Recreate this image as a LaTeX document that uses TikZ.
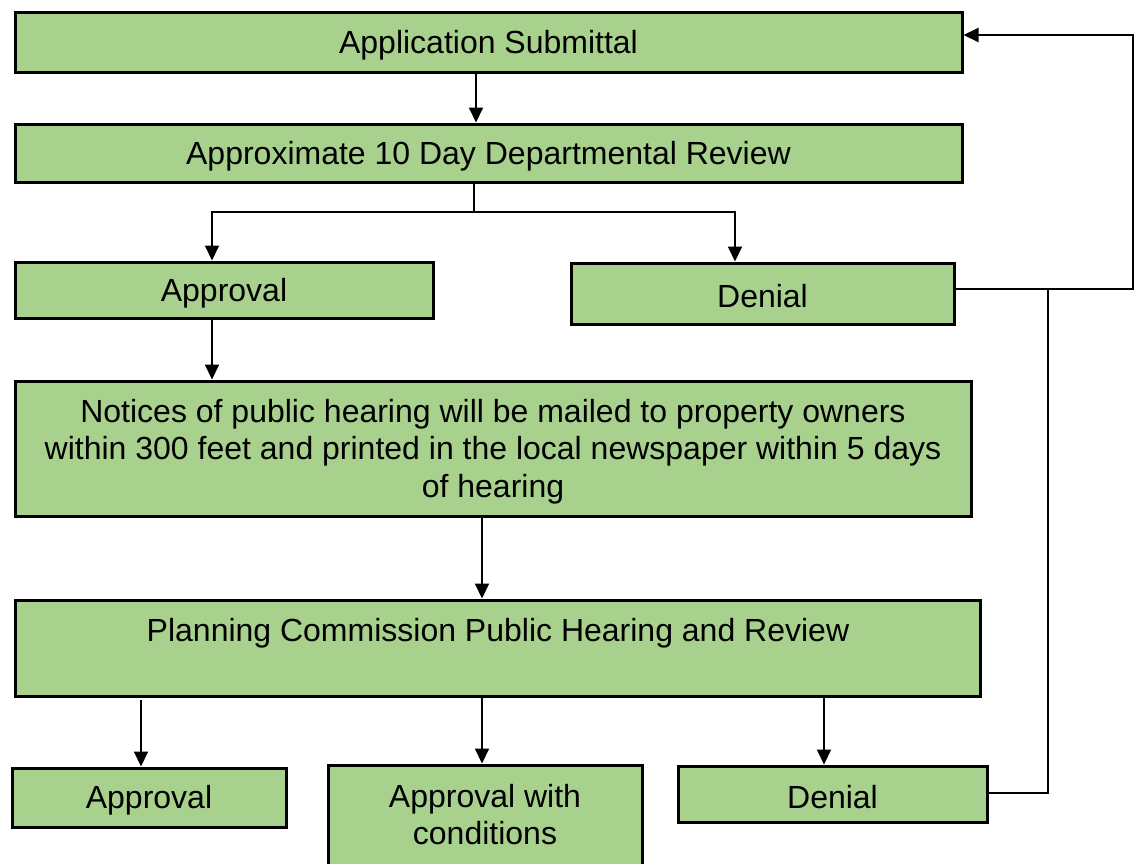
\documentclass[tikz,border=0pt]{standalone}
\usepackage{fontspec}
\setmainfont{Liberation Sans}
\usetikzlibrary{arrows.meta}
\definecolor{boxgreen}{HTML}{A9D18E}
\begin{document}
\begin{tikzpicture}[x=1pt,y=-1pt,
  box/.style={draw=black, line width=3pt, fill=boxgreen, inner sep=0pt},
  lbl/.style={font=\fontsize{32}{37.5}\selectfont, align=center, inner sep=0pt, yshift=-3pt},
  conn/.style={line width=2pt},
  arr/.style={conn, -{Triangle[length=15pt,width=14pt]}}]
\useasboundingbox (0,0) rectangle (1144,863);
\node[box, minimum width=947pt, minimum height=60pt] (b1) at (488.5,42) {};
\node[lbl] (b1t) at (b1.center) {Application Submittal};
\node[box, minimum width=947pt, minimum height=58pt] (b2) at (488.5,153) {};
\node[lbl] (b2t) at (b2.center) {Approximate 10 Day Departmental Review};
\node[box, minimum width=418pt, minimum height=56pt] (b3) at (224,290) {};
\node[lbl] (b3t) at (b3.center) {Approval};
\node[box, minimum width=383pt, minimum height=61pt] (b4) at (762.5,293.5) {};
\node[lbl] (b4t) at (b4.center) {Denial};
\node[box, minimum width=956pt, minimum height=135pt] (b5) at (493,448.5) {};
\node[lbl] (b5t) at (b5.center) {Notices of public hearing will be mailed to property owners\\within 300 feet and printed in the local newspaper within 5 days\\of hearing};
\node[box, minimum width=965pt, minimum height=96pt] (b6) at (497.5,648) {};
\node[lbl] (b6t) at (498,630) {Planning Commission Public Hearing and Review};
\node[box, minimum width=274pt, minimum height=59pt] (b7) at (149,797.5) {};
\node[lbl] (b7t) at (b7.center) {Approval};
\node[box, minimum width=314pt, minimum height=105pt] (b8) at (485,817.5) {};
\node[lbl, anchor=north] (b8t) at (485,781) {Approval with\\conditions};
\node[box, minimum width=309pt, minimum height=56pt] (b9) at (832.5,794) {};
\node[lbl] (b9t) at (b9.center) {Denial};
% connectors
\draw[arr] (476,0 |- b1.south) -- (476,0 |- b2.north);
\coordinate (split) at (474,212);
\draw[conn] (split |- b2.south) -- (split);
\draw[arr] (split) -| (212,0 |- b3.north);
\draw[arr] (split) -| (735,0 |- b4.north);
\draw[arr] (212,0 |- b3.south) -- (212,0 |- b5.north);
\draw[arr] (482,0 |- b5.south) -- (482,0 |- b6.north);
\draw[arr] (141,700) -- (141,0 |- b7.north);
\draw[arr] (482,0 |- b6.south) -- (482,0 |- b8.north);
\draw[arr] (824,0 |- b6.south) -- (824,0 |- b9.north);
\coordinate (loopA) at (1133,289);
\coordinate (loopB) at (1048,289);
\draw[arr] (b4.east |- loopA) -- (loopA) |- (b1.east |- 0,35);
\draw[conn] (b9.east |- 0,793) -| (loopB);
\end{tikzpicture}
\end{document}
